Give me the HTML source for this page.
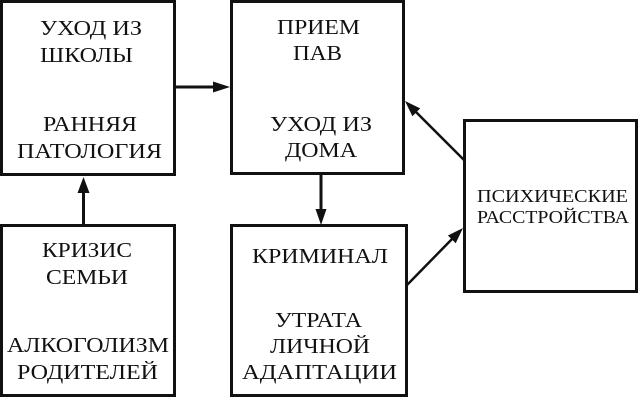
<!DOCTYPE html>
<html>
<head>
<meta charset="utf-8">
<style>
html,body{margin:0;padding:0;background:#fff;}
svg{display:block;}
text{font-family:"Liberation Serif","DejaVu Serif",serif;fill:#111;}
</style>
</head>
<body>
<svg width="639" height="400" viewBox="0 0 639 400" xmlns="http://www.w3.org/2000/svg">
<g fill="none" stroke="#111" stroke-width="3">
<rect x="1.5" y="1.5" width="173" height="173"/>
<rect x="231.5" y="1.5" width="172" height="172"/>
<rect x="1.5" y="225.5" width="173" height="170"/>
<rect x="231.5" y="225.5" width="175" height="170"/>
<rect x="464.5" y="120.5" width="172" height="171"/>
</g>
<g stroke="#111" stroke-width="3">
<line x1="176" y1="87" x2="216" y2="87"/>
<line x1="83.5" y1="224" x2="83.5" y2="190"/>
<line x1="321" y1="175" x2="321" y2="212"/>
</g>
<g stroke="#111" stroke-width="2.5">
<line x1="464" y1="160" x2="415" y2="111"/>
<line x1="407" y1="285" x2="453" y2="238"/>
</g>
<g fill="#111">
<polygon points="230,87 213,81.5 213,92.5"/>
<polygon points="83.5,177 77.5,193 89.5,193"/>
<polygon points="321,225 315.5,209 326.5,209"/>
<polygon points="405,101 420.2,108.4 412.4,116.2"/>
<polygon points="463,228 455.7,243.3 447.9,235.5"/>
</g>
<g font-size="21" text-anchor="middle">
<text x="91" y="35" textLength="102" lengthAdjust="spacingAndGlyphs">УХОД ИЗ</text>
<text x="86.5" y="62" textLength="93" lengthAdjust="spacingAndGlyphs">ШКОЛЫ</text>
<text x="90" y="131" textLength="94" lengthAdjust="spacingAndGlyphs">РАННЯЯ</text>
<text x="89.5" y="158" textLength="145" lengthAdjust="spacingAndGlyphs">ПАТОЛОГИЯ</text>

<text x="318.5" y="34" textLength="83" lengthAdjust="spacingAndGlyphs">ПРИЕМ</text>
<text x="317.5" y="60" textLength="49" lengthAdjust="spacingAndGlyphs">ПАВ</text>
<text x="321" y="131" textLength="102" lengthAdjust="spacingAndGlyphs">УХОД ИЗ</text>
<text x="321" y="157" textLength="72" lengthAdjust="spacingAndGlyphs">ДОМА</text>

<text x="87" y="257" textLength="90" lengthAdjust="spacingAndGlyphs">КРИЗИС</text>
<text x="87" y="284" textLength="82" lengthAdjust="spacingAndGlyphs">СЕМЬИ</text>
<text x="88" y="352" textLength="162" lengthAdjust="spacingAndGlyphs">АЛКОГОЛИЗМ</text>
<text x="87.5" y="379" textLength="141" lengthAdjust="spacingAndGlyphs">РОДИТЕЛЕЙ</text>

<text x="320" y="263" textLength="136" lengthAdjust="spacingAndGlyphs">КРИМИНАЛ</text>
<text x="318.5" y="327" textLength="87" lengthAdjust="spacingAndGlyphs">УТРАТА</text>
<text x="320" y="353" textLength="100" lengthAdjust="spacingAndGlyphs">ЛИЧНОЙ</text>
<text x="319.5" y="379" textLength="155" lengthAdjust="spacingAndGlyphs">АДАПТАЦИИ</text>
</g>
<g font-size="18" text-anchor="middle">
<text x="552.5" y="202" textLength="151" lengthAdjust="spacingAndGlyphs">ПСИХИЧЕСКИЕ</text>
<text x="553" y="223" textLength="152" lengthAdjust="spacingAndGlyphs">РАССТРОЙСТВА</text>
</g>
</svg>
</body>
</html>
